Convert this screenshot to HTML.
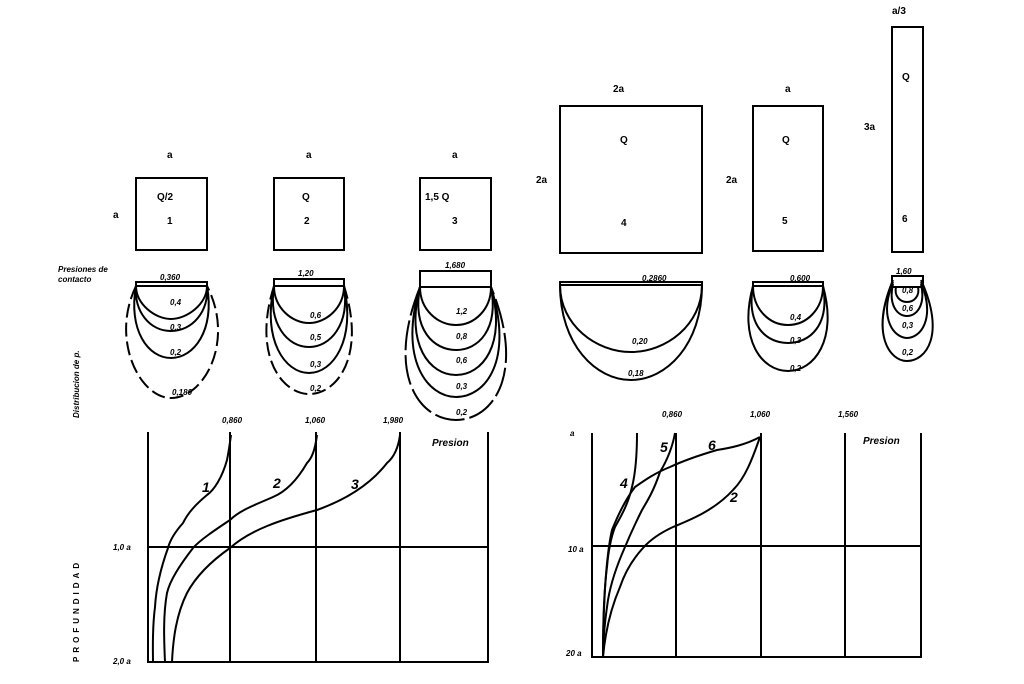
<!DOCTYPE html>
<html><head><meta charset="utf-8"><style>
html,body{margin:0;padding:0;background:#fff}
svg{display:block}
text{font-family:"Liberation Sans",sans-serif;font-weight:bold;fill:#000}
</style></head><body>
<svg width="1024" height="684" viewBox="0 0 1024 684" xmlns="http://www.w3.org/2000/svg">
<g fill="none" stroke="#000" stroke-width="2">
<!-- boxes -->
<rect x="136" y="178" width="71" height="72"/>
<rect x="274" y="178" width="70" height="72"/>
<rect x="420" y="178" width="71" height="72"/>
<rect x="560" y="106" width="142" height="147"/>
<rect x="753" y="106" width="70" height="145"/>
<rect x="892" y="27" width="31" height="225"/>
<!-- contact bars -->
<rect x="136" y="282" width="71" height="4"/>
<rect x="274" y="279" width="70" height="7"/>
<rect x="420" y="271" width="71" height="16"/>
<rect x="560" y="282" width="142" height="3"/>
<rect x="753" y="282" width="70" height="4"/>
<rect x="892" y="276" width="31" height="11"/>
<!-- bulbs 1 -->
<path d="M136,286 C136,304 155,319 171,319 C187,319 207,304 207,286"/>
<path d="M136,286 C134,312 150,331 171,331 C192,331 209,312 207,286"/>
<path d="M136,286 C128,330 148,358 171,358 C194,358 215,330 207,286"/>
<path d="M136,286 C110,340 140,398 171,398 C205,398 235,340 207,286" stroke-dasharray="14,5"/>
<!-- bulbs 2 -->
<path d="M274,286 C274,308 292,323 309,323 C326,323 344,308 344,286"/>
<path d="M274,286 C268,325 288,347 309,347 C330,347 350,325 344,286"/>
<path d="M274,286 C262,340 285,373 309,373 C333,373 356,340 344,286"/>
<path d="M274,286 C252,355 282,394 309,394 C338,394 366,355 344,286" stroke-dasharray="14,5"/>
<!-- bulbs 3 -->
<path d="M420,287 C420,310 438,325 456,325 C474,325 491,310 491,287"/>
<path d="M420,287 C412,330 434,350 456,350 C478,350 499,330 491,287"/>
<path d="M420,287 C405,345 430,375 456,375 C482,375 507,345 491,287"/>
<path d="M420,287 C398,360 428,397 456,397 C486,397 514,360 491,287"/>
<path d="M420,287 C385,375 420,420 456,420 C492,420 527,375 491,287" stroke-dasharray="30,5"/>
<!-- bulbs 4 -->
<path d="M560,285 C560,325 596,352 631,352 C666,352 702,325 702,285"/>
<path d="M560,285 C560,345 596,380 631,380 C666,380 702,345 702,285"/>
<!-- bulbs 5 -->
<path d="M753,286 C753,310 770,325 788,325 C806,325 823,310 823,286"/>
<path d="M753,286 C746,325 766,343 788,343 C810,343 830,325 823,286"/>
<path d="M753,286 C738,340 762,371 788,371 C814,371 838,340 823,286"/>
<!-- bulbs 6 -->
<path d="M896,287 C894,296 900,302 907,302 C914,302 920,296 918,287"/>
<path d="M893,284 C888,306 898,316 907,316 C916,316 926,306 921,284"/>
<path d="M893,282 C878,320 895,338 907,338 C920,338 936,320 921,282"/>
<path d="M893,280 C870,335 890,361 907,361 C926,361 946,335 921,280"/>
<!-- left graph -->
<path d="M148,432 V662 H488 V432"/>
<path d="M230,432 V662 M316,432 V662 M400,432 V662 M148,547 H488"/>
<path d="M231,435 C229,450 228,455 227,460 C222,478 214,490 207,495 C195,505 188,513 183,523 C175,532 170,540 168,548 C160,570 156,590 155,607 C152,630 153,650 153,662"/>
<path d="M317,435 C315,450 312,458 307,463 C296,482 285,492 273,497 C255,505 240,510 230,520 C215,530 200,540 193,548 C180,565 170,580 167,593 C163,615 164,640 165,662"/>
<path d="M400,435 C398,450 393,458 387,463 C370,485 345,500 317,510 C280,520 250,530 230,548 C210,562 195,578 187,593 C176,615 173,640 172,662"/>
<!-- right graph -->
<path d="M592,433 V657 H921 V433"/>
<path d="M676,433 V657 M761,433 V657 M845,433 V657 M592,546 H921"/>
<path d="M637,433 C637,455 635,475 632,487 C628,505 620,518 615,527 C610,540 608,555 607,567 C604,590 603,630 603,657"/>
<path d="M675,433 C672,450 666,462 660,472 C654,490 648,500 642,510 C636,522 630,535 625,547 C617,565 611,582 608,600 C605,620 603,640 603,657"/>
<path d="M760,437 C745,445 730,448 717,450 C700,455 685,460 670,467 C655,473 645,480 635,487 C625,500 618,515 612,530 C605,560 603,620 603,657"/>
<path d="M760,437 C752,460 745,478 733,490 C715,510 690,520 673,527 C660,533 650,540 643,548 C632,560 625,572 620,587 C610,610 605,635 603,657"/>
</g>
<g font-size="10">
<text x="167" y="158">a</text><text x="306" y="158">a</text><text x="452" y="158">a</text>
<text x="613" y="92">2a</text><text x="785" y="92">a</text><text x="892" y="14">a/3</text>
<text x="113" y="218">a</text><text x="536" y="183">2a</text><text x="726" y="183">2a</text><text x="864" y="130">3a</text>
<text x="157" y="200">Q/2</text><text x="167" y="224">1</text>
<text x="302" y="200">Q</text><text x="304" y="224">2</text>
<text x="425" y="200">1,5 Q</text><text x="452" y="224">3</text>
<text x="620" y="143">Q</text><text x="621" y="226">4</text>
<text x="782" y="143">Q</text><text x="782" y="224">5</text>
<text x="902" y="80">Q</text><text x="902" y="222">6</text>
</g>
<g font-size="8" font-style="italic">
<text x="58" y="272">Presiones de</text><text x="58" y="282">contacto</text>
<text x="160" y="280">0,360</text><text x="298" y="276">1,20</text><text x="445" y="268">1,680</text>
<text x="642" y="281">0,2860</text><text x="790" y="281">0,600</text><text x="896" y="274">1,60</text>
<text x="170" y="305">0,4</text><text x="170" y="330">0,3</text><text x="170" y="355">0,2</text><text x="172" y="395">0,180</text>
<text x="310" y="318">0,6</text><text x="310" y="340">0,5</text><text x="310" y="367">0,3</text><text x="310" y="391">0,2</text>
<text x="456" y="314">1,2</text><text x="456" y="339">0,8</text><text x="456" y="363">0,6</text><text x="456" y="389">0,3</text><text x="456" y="415">0,2</text>
<text x="632" y="344">0,20</text><text x="628" y="376">0,18</text>
<text x="790" y="320">0,4</text><text x="790" y="343">0,3</text><text x="790" y="371">0,2</text>
<text x="902" y="293">0,8</text><text x="902" y="311">0,6</text><text x="902" y="328">0,3</text><text x="902" y="355">0,2</text>
<text x="222" y="423">0,860</text><text x="305" y="423">1,060</text><text x="383" y="423">1,980</text>
<text x="662" y="417">0,860</text><text x="750" y="417">1,060</text><text x="838" y="417">1,560</text>
<text x="432" y="446" font-size="10">Presion</text><text x="863" y="444" font-size="10">Presion</text>
<text x="113" y="550">1,0 a</text><text x="113" y="664">2,0 a</text>
<text x="570" y="436">a</text><text x="568" y="552">10 a</text><text x="566" y="656">20 a</text>
<text transform="translate(79,418) rotate(-90)">Distribucion de p.</text>
<text transform="translate(79,662) rotate(-90)" letter-spacing="4" font-style="normal">PROFUNDIDAD</text>
</g>
<g font-size="14" font-style="italic">
<text x="202" y="492">1</text><text x="273" y="488">2</text><text x="351" y="489">3</text>
<text x="620" y="488">4</text><text x="660" y="452">5</text><text x="708" y="450">6</text><text x="730" y="502">2</text>
</g>
</svg>
</body></html>
